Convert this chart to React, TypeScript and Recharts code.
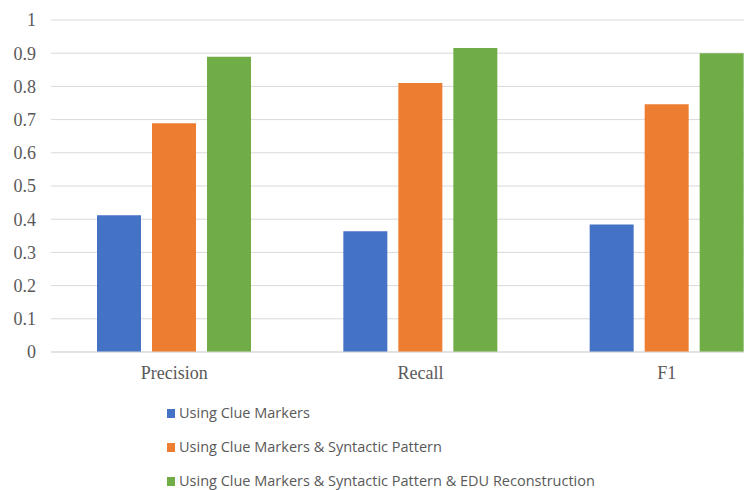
import { BarChart, Bar, XAxis, YAxis, CartesianGrid, Legend } from "recharts";

const categories = ["Precision", "Recall", "F1"];
const clueMarkers = [0.412, 0.364, 0.384];
const clueSyntactic = [0.689, 0.81, 0.746];
const clueSyntacticEdu = [0.889, 0.916, 0.9];
const yTicks = [0, 0.1, 0.2, 0.3, 0.4, 0.5, 0.6, 0.7, 0.8, 0.9, 1];

const seriesNames = [
  "Using Clue Markers",
  "Using Clue Markers & Syntactic Pattern",
  "Using Clue Markers & Syntactic Pattern & EDU Reconstruction",
];
const colors = ["#4472C4", "#ED7D31", "#70AD47"];

const data = categories.map((name, i) => ({
  name,
  a: clueMarkers[i],
  b: clueSyntactic[i],
  c: clueSyntacticEdu[i],
}));

const serif = "'Liberation Serif', 'DejaVu Serif', serif";

function LegendBox() {
  return (
    <div style={{ height: 104, paddingLeft: 167, boxSizing: "border-box" }}>
      {seriesNames.map((s, i) => (
        <div
          key={s}
          style={{
            height: 34,
            lineHeight: "34px",
            display: "flex",
            alignItems: "center",
            fontFamily: "'Open Sans', sans-serif",
            fontSize: 14.5,
            color: "#595959",
            whiteSpace: "nowrap",
          }}
        >
          <span
            style={{
              width: 8,
              height: 9,
              background: colors[i],
              marginRight: 4,
              display: "inline-block",
            }}
          />
          {s}
        </div>
      ))}
    </div>
  );
}

export default function App() {
  // fixed so the plot can run off the right edge like the cropped original
  return (
    <div
      style={{
        position: "fixed",
        top: 0,
        left: 0,
        width: 744,
        height: 490,
        overflow: "hidden",
        background: "#fff",
      }}
    >
      <BarChart
        width={800}
        height={500}
        data={data}
        margin={{ top: 20, right: 10, bottom: 0, left: 0 }}
        barSize={44}
        barGap={11}
      >
        <CartesianGrid vertical={false} stroke="#d9d9d9" />
        <XAxis
          dataKey="name"
          height={44}
          tickLine={false}
          axisLine={{ stroke: "#d9d9d9" }}
          tickMargin={8}
          tick={{ fontFamily: serif, fontSize: 18, fill: "#595959" }}
        />
        <YAxis
          width={51}
          domain={[0, 1]}
          ticks={yTicks}
          interval={0}
          tickLine={false}
          axisLine={false}
          tickMargin={9}
          tickFormatter={(v: number) => String(v)}
          tick={{ fontFamily: serif, fontSize: 18, fill: "#595959" }}
        />
        <Legend
          verticalAlign="bottom"
          align="left"
          layout="horizontal"
          content={() => <LegendBox />}
          wrapperStyle={{ width: 744, height: 104, left: 0 }}
        />
        <Bar dataKey="a" name={seriesNames[0]} fill={colors[0]} isAnimationActive={false} />
        <Bar dataKey="b" name={seriesNames[1]} fill={colors[1]} isAnimationActive={false} />
        <Bar dataKey="c" name={seriesNames[2]} fill={colors[2]} isAnimationActive={false} />
      </BarChart>
    </div>
  );
}
